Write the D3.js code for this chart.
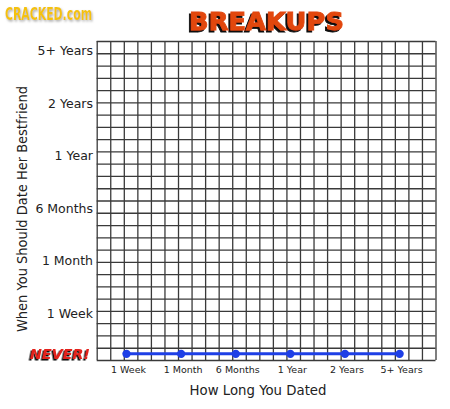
<!DOCTYPE html>
<html>
<head>
<meta charset="utf-8">
<script src="https://cdn.jsdelivr.net/npm/d3@7"></script>
<style>
  body { margin: 0; background: #fff; }
  svg { display: block; }
</style>
</head>
<body>
<script>
// data
const xLabels = ["1 Week", "1 Month", "6 Months", "1 Year", "2 Years", "5+ Years"];
const yLabels = ["NEVER!", "1 Week", "1 Month", "6 Months", "1 Year", "2 Years", "5+ Years"];
// when you should date her bestfriend, for each length of relationship
const seriesValues = ["NEVER!", "NEVER!", "NEVER!", "NEVER!", "NEVER!", "NEVER!"];

const width = 450, height = 409;
const margin = { top: 41, right: 14.5, bottom: 49, left: 96.7 };
const cols = 25, rows = 26;

const svg = d3.select("body").append("svg")
    .attr("width", width)
    .attr("height", height);

// shadows for the title texts
const defs = svg.append("defs");
function shadow(id, dx, dy, blur, color) {
    defs.append("filter").attr("id", id)
        .attr("x", "-10%").attr("y", "-30%").attr("width", "120%").attr("height", "160%")
        .append("feDropShadow")
        .attr("dx", dx).attr("dy", dy).attr("stdDeviation", blur)
        .attr("flood-color", color).attr("flood-opacity", 1);
}
shadow("sh-title", -2, 2, 0, "#111");
shadow("sh-never", -1.5, 1.5, 0, "#111");
shadow("sh-logo", 1, 1.5, 0.8, "#aaa");

// grid units -> pixels
const x = d3.scaleLinear().domain([0, cols]).range([margin.left, width - margin.right]);
const y = d3.scaleLinear().domain([0, rows]).range([height - margin.bottom, margin.top]);

// categories on the grid
const xCat = d3.scalePoint().domain(xLabels).range([2.2, 22.35]);
const yReg = d3.scalePoint().domain(yLabels.slice(1)).range([3.8, 25.2]);
const yCat = c => c === "NEVER!" ? 0.5 : yReg(c);

// grid through axes
const grid = svg.append("g").attr("class", "grid");
grid.append("g")
    .attr("transform", `translate(0,${y(0)})`)
    .call(d3.axisBottom(x).tickValues(d3.range(0, cols + 1)).tickSize(-(y(0) - y(rows))).tickFormat(""))
    .call(g => g.select(".domain").remove());
grid.append("g")
    .attr("transform", `translate(${x(0)},0)`)
    .call(d3.axisLeft(y).tickValues(d3.range(0, rows + 1)).tickSize(-(x(cols) - x(0))).tickFormat(""))
    .call(g => g.select(".domain").remove());
grid.selectAll("line").attr("stroke", "#3a3a3a").attr("stroke-width", 1.3);

// y tick labels
const fontMain = "'DejaVu Sans', sans-serif";
svg.append("g").selectAll("text").data(yLabels.slice(1)).join("text")
    .attr("x", 93)
    .attr("y", d => y(yCat(d)))
    .attr("dy", "0.35em")
    .attr("text-anchor", "end")
    .attr("font-family", fontMain)
    .attr("font-size", 12.5)
    .attr("fill", "#222")
    .text(d => d);

// NEVER! label
svg.append("text")
    .attr("x", 90).attr("y", y(yCat("NEVER!"))).attr("dy", "0.35em")
    .attr("text-anchor", "end")
    .attr("font-family", fontMain).attr("font-weight", "bold").attr("font-style", "italic")
    .attr("font-size", 14).attr("textLength", 60).attr("lengthAdjust", "spacingAndGlyphs")
    .attr("fill", "#e3211b").attr("filter", "url(#sh-never)")
    .text("NEVER!");

// x tick labels
svg.append("g").selectAll("text").data(xLabels).join("text")
    .attr("x", d => x(xCat(d)) + 2)
    .attr("y", 373)
    .attr("text-anchor", "middle")
    .attr("font-family", fontMain)
    .attr("font-size", 9.5)
    .attr("fill", "#222")
    .text(d => d);

// axis titles
svg.append("text")
    .attr("x", 258).attr("y", 395)
    .attr("text-anchor", "middle")
    .attr("font-family", fontMain).attr("font-size", 13.5)
    .attr("textLength", 137).attr("lengthAdjust", "spacingAndGlyphs")
    .attr("fill", "#222")
    .text("How Long You Dated");
svg.append("text")
    .attr("transform", "translate(27,209) rotate(-90)")
    .attr("text-anchor", "middle")
    .attr("font-family", fontMain).attr("font-size", 14)
    .attr("textLength", 246).attr("lengthAdjust", "spacingAndGlyphs")
    .attr("fill", "#222")
    .text("When You Should Date Her Bestfriend");

// series line and dots
const pts = xLabels.map((d, i) => ({ x: d, y: seriesValues[i] }));
const line = d3.line().x(d => x(xCat(d.x))).y(d => y(yCat(d.y)));
svg.append("path")
    .datum(pts)
    .attr("fill", "none")
    .attr("stroke", "#1e3fe6")
    .attr("stroke-width", 3)
    .attr("d", line);
svg.append("g").selectAll("circle").data(pts).join("circle")
    .attr("cx", d => x(xCat(d.x)))
    .attr("cy", d => y(yCat(d.y)))
    .attr("r", 4.2)
    .attr("fill", "#1e3fe6");

// title
svg.append("text")
    .attr("x", 189).attr("y", 30)
    .attr("font-family", fontMain).attr("font-weight", "bold")
    .attr("font-size", 24).attr("textLength", 155).attr("lengthAdjust", "spacingAndGlyphs")
    .attr("fill", "#e2470f").attr("stroke", "#e2470f").attr("stroke-width", 0.8)
    .attr("filter", "url(#sh-title)")
    .text("BREAKUPS");

// logo
svg.append("text")
    .attr("x", 5).attr("y", 20)
    .attr("font-family", "'Liberation Sans Narrow', 'DejaVu Sans Condensed', sans-serif").attr("font-weight", "bold")
    .attr("font-size", 17).attr("textLength", 87).attr("lengthAdjust", "spacingAndGlyphs")
    .attr("fill", "#f4c20d").attr("filter", "url(#sh-logo)")
    .text("CRACKED.com");
</script>
</body>
</html>
